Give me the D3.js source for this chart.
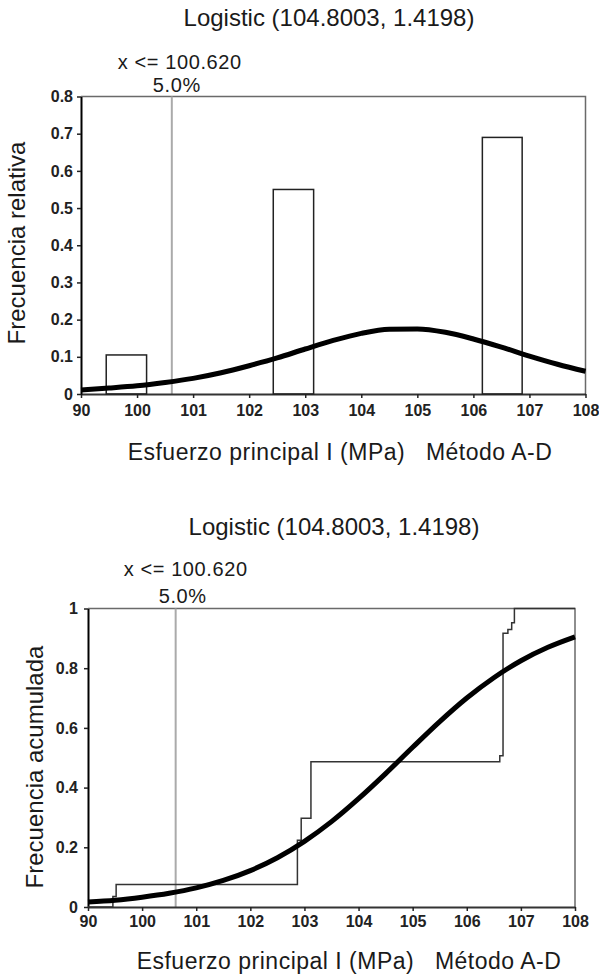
<!DOCTYPE html>
<html>
<head>
<meta charset="utf-8">
<script src="https://cdn.jsdelivr.net/npm/d3@7"></script>
<style>
    body { margin: 0; background: #fff; }
    svg { display: block; font-family: "Liberation Sans", Arial, sans-serif; }
</style>
</head>
<body>
<svg id="chart" width="599" height="979"></svg>
<script>
// axis ticks (the first tick is printed as "90" in the original)
const xTicks = [99, 100, 101, 102, 103, 104, 105, 106, 107, 108];
const xTickLabels = ['90', '100', '101', '102', '103', '104', '105', '106', '107', '108'];
const relTicks = [0, 0.1, 0.2, 0.3, 0.4, 0.5, 0.6, 0.7, 0.8];
const relTickLabels = ['0', '0.1', '0.2', '0.3', '0.4', '0.5', '0.6', '0.7', '0.8'];
const cumTicks = [0, 0.2, 0.4, 0.6, 0.8, 1];
const cumTickLabels = ['0', '0.2', '0.4', '0.6', '0.8', '1'];

// histogram bins (relative frequency)
const binStart = [99.45, 102.43, 106.16];
const binEnd = [100.17, 103.15, 106.87];
const binFreq = [0.105, 0.55, 0.69];

// fitted logistic curve
const fitX = [99, 99.5, 100, 100.5, 101, 101.5, 102, 102.5, 103, 103.5, 104, 104.5, 105, 105.5, 106, 106.5, 107, 107.5, 108];
const fitDensity = [0.011, 0.016, 0.022, 0.031, 0.042, 0.057, 0.076, 0.097, 0.121, 0.144, 0.163, 0.174, 0.175, 0.166, 0.148, 0.126, 0.102, 0.080, 0.061];
const fitCumulative = [0.017, 0.023, 0.033, 0.046, 0.064, 0.089, 0.122, 0.165, 0.220, 0.286, 0.363, 0.447, 0.535, 0.621, 0.700, 0.768, 0.825, 0.870, 0.905];

// empirical cumulative frequency (step line)
const stepX = [99, 99.46, 99.52, 102.87, 102.94, 103.12, 106.61, 106.67, 106.76, 106.83, 106.88, 108];
const stepY = [0, 0.035, 0.075, 0.224, 0.297, 0.487, 0.507, 0.917, 0.93, 0.952, 1, 1];

const cutoff = 100.62;
const cutoffLabel = 'x <= 100.620';
const cutoffPct = '5.0%';
const titleText = 'Logistic (104.8003, 1.4198)';
const xTitle = 'Esfuerzo principal I (MPa)   Método A-D';

(function () {
    const svg = d3.select('#chart');

    function addText(txt, x, y, size, opts = {}) {
        let t = svg.append('text')
                   .attr('x', x)
                   .attr('y', y)
                   .attr('text-anchor', 'middle')
                   .attr('font-size', size)
                   .attr('fill', '#1a1a1a')
                   .style('white-space', 'pre')
                   .text(txt);
        if (opts.spacing) {
            t.attr('letter-spacing', opts.spacing);
        }
        if (opts.rotate) {
            t.attr('x', null)
             .attr('y', null)
             .attr('transform', `translate(${x}, ${y}) rotate(-90)`);
        }
        return t;
    }

    function styleAxis(axis, domainColour) {
        axis.attr('font-family', null)
            .attr('font-size', 16)
            .attr('font-weight', 'bold');
        axis.select('.domain').attr('stroke', domainColour).attr('stroke-width', 2);
        axis.selectAll('.tick line').attr('stroke', '#222').attr('stroke-width', 1.5);
        axis.selectAll('.tick text').attr('fill', '#222');
    }

    function makePanel(box, yTicks, yTickLabels, lay) {
        let x = d3.scaleLinear()
                  .domain([xTicks[0], xTicks[xTicks.length - 1]])
                  .range([box.left, box.right]);
        let y = d3.scaleLinear()
                  .domain([yTicks[0], yTicks[yTicks.length - 1]])
                  .range([box.bottom, box.top]);

        // grey frame on top and right
        svg.append('path')
           .attr('d', `M${box.left},${box.top}H${box.right}V${box.bottom}`)
           .attr('fill', 'none')
           .attr('stroke', '#6a6a6a')
           .attr('stroke-width', 1.5);

        // cutoff line
        svg.append('line')
           .attr('x1', x(cutoff))
           .attr('x2', x(cutoff))
           .attr('y1', box.top)
           .attr('y2', box.bottom)
           .attr('stroke', '#aaa')
           .attr('stroke-width', 2);

        let xAxis = svg.append('g')
                       .attr('transform', `translate(0, ${box.bottom})`)
                       .call(d3.axisBottom(x)
                               .tickValues(xTicks)
                               .tickFormat((d, i) => xTickLabels[i])
                               .tickSize(4)
                               .tickSizeOuter(0)
                               .tickPadding(lay.xPad));
        styleAxis(xAxis, '#333');

        let yAxis = svg.append('g')
                       .attr('transform', `translate(${box.left}, 0)`)
                       .call(d3.axisLeft(y)
                               .tickValues(yTicks)
                               .tickFormat((d, i) => yTickLabels[i])
                               .tickSize(4)
                               .tickSizeOuter(0)
                               .tickPadding(lay.yPad));
        styleAxis(yAxis, '#000');

        addText(titleText, lay.titleX, lay.titleY, 24);
        addText(cutoffLabel, x(cutoff) + lay.cutOffset, lay.cutY, 20, {spacing: 0.6});
        addText(cutoffPct, x(cutoff) + lay.pctOffset, lay.pctY, 20, {spacing: 0.6});
        addText(xTitle, lay.xTitleX, lay.xTitleY, 23, {spacing: 0.5});
        addText(lay.yTitle, lay.yTitleX, lay.yTitleY, 24, {rotate: true});

        return {x: x, y: y};
    }

    // relative frequency panel
    let top = makePanel(
        {left: 81, right: 585.5, top: 96.5, bottom: 394},
        relTicks, relTickLabels,
        {
            xPad: 7, yPad: 4,
            titleX: 329, titleY: 26,
            cutOffset: 8, cutY: 69,
            pctOffset: 5, pctY: 92,
            xTitleX: 340, xTitleY: 460,
            yTitle: 'Frecuencia relativa', yTitleX: 25, yTitleY: 243,
        },
    );

    svg.append('g')
       .selectAll('rect')
       .data(binFreq)
       .enter()
       .append('rect')
       .attr('x', (d, i) => top.x(binStart[i]))
       .attr('width', (d, i) => top.x(binEnd[i]) - top.x(binStart[i]))
       .attr('y', d => top.y(d))
       .attr('height', d => top.y(0) - top.y(d))
       .attr('fill', 'none')
       .attr('stroke', '#222')
       .attr('stroke-width', 1.5);

    svg.append('path')
       .datum(fitX)
       .attr('fill', 'none')
       .attr('stroke', '#000')
       .attr('stroke-width', 5)
       .attr('d', d3.line()
                    .x(d => top.x(d))
                    .y((d, i) => top.y(fitDensity[i]))
                    .curve(d3.curveMonotoneX));

    // cumulative panel
    let bottom = makePanel(
        {left: 88, right: 575, top: 608.5, bottom: 907},
        cumTicks, cumTickLabels,
        {
            xPad: 5, yPad: 6,
            titleX: 334, titleY: 535,
            cutOffset: 10, cutY: 576,
            pctOffset: 7, pctY: 603,
            xTitleX: 349, xTitleY: 969,
            yTitle: 'Frecuencia acumulada', yTitleX: 43, yTitleY: 767,
        },
    );

    svg.append('path')
       .datum(stepX)
       .attr('fill', 'none')
       .attr('stroke', '#333')
       .attr('stroke-width', 1.5)
       .attr('d', d3.line()
                    .x(d => bottom.x(d))
                    .y((d, i) => bottom.y(stepY[i]))
                    .curve(d3.curveStepAfter));

    svg.append('path')
       .datum(fitX)
       .attr('fill', 'none')
       .attr('stroke', '#000')
       .attr('stroke-width', 5)
       .attr('d', d3.line()
                    .x(d => bottom.x(d))
                    .y((d, i) => bottom.y(fitCumulative[i]))
                    .curve(d3.curveMonotoneX));
})();
</script>
</body>
</html>
